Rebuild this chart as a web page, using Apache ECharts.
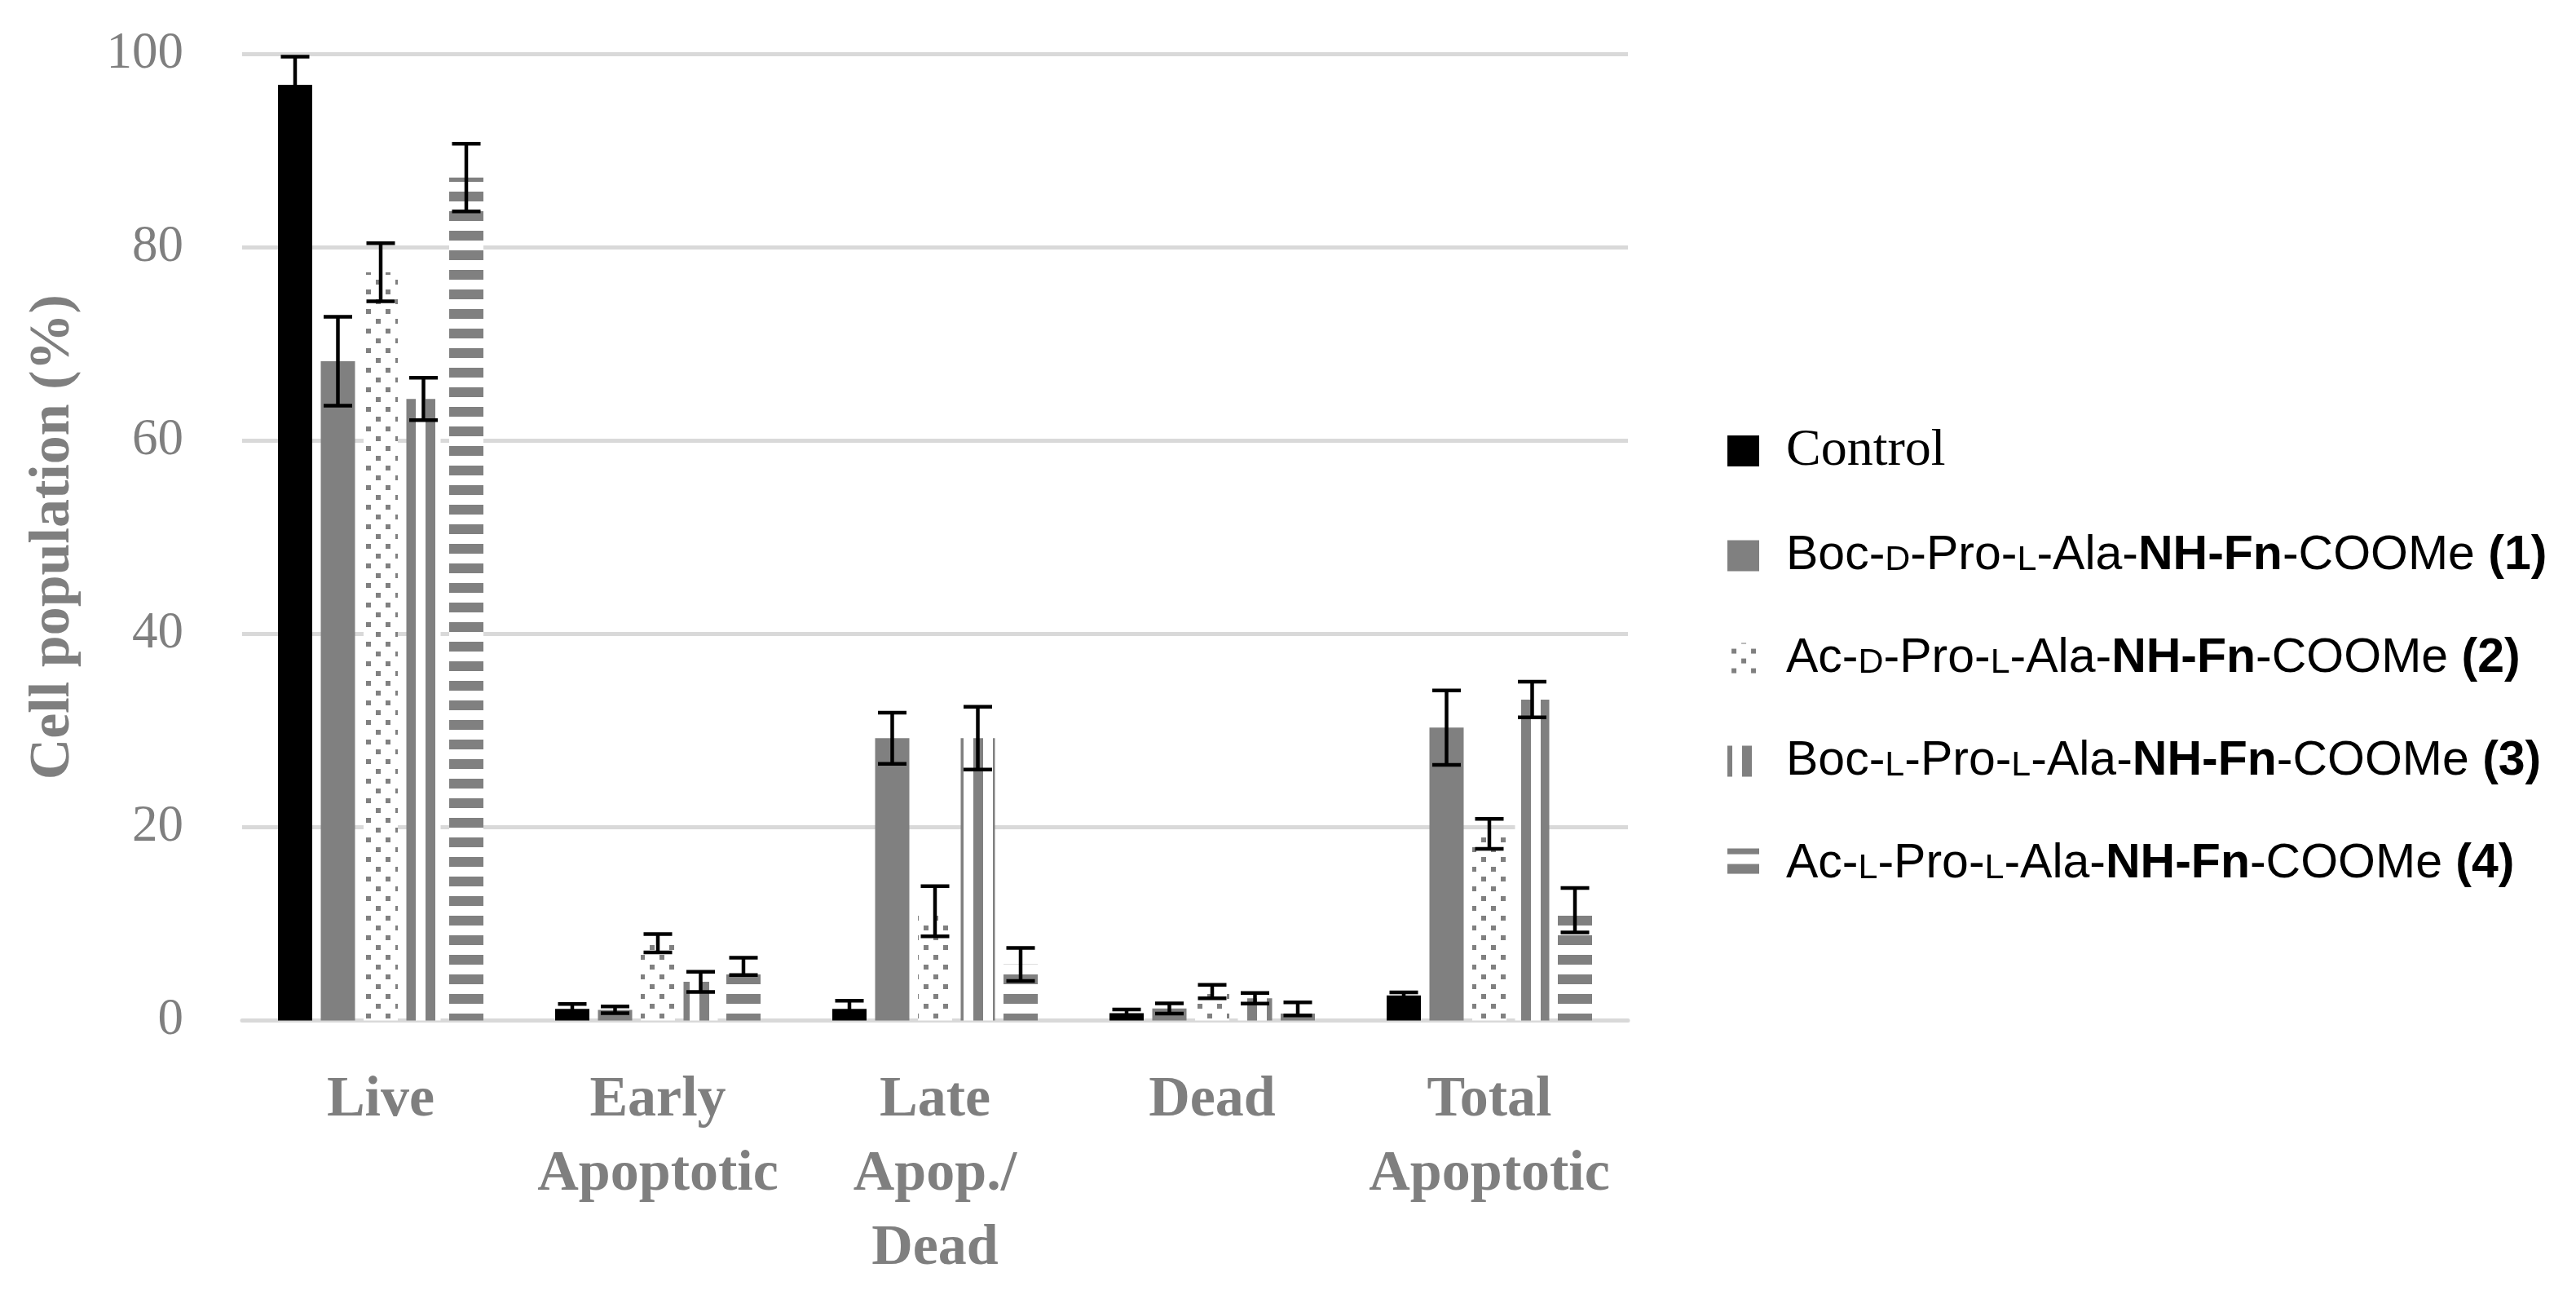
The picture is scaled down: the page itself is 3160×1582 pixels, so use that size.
<!DOCTYPE html>
<html>
<head>
<meta charset="utf-8">
<script src="https://cdn.jsdelivr.net/npm/echarts@6/dist/echarts.min.js"></script>
<style>
  html, body { margin: 0; padding: 0; background: #ffffff; }
  #chart { width: 3160px; height: 1582px; }
</style>
</head>
<body>
<div id="chart"></div>
<script>
// ---------------- data ----------------
const categories = ['Live', 'Early\nApoptotic', 'Late\nApop./\nDead', 'Dead', 'Total\nApoptotic'];
const yTicks = [0, 20, 40, 60, 80, 100];

const seriesNames = [
  'Control',
  'Boc-D-Pro-L-Ala-NH-Fn-COOMe (1)',
  'Ac-D-Pro-L-Ala-NH-Fn-COOMe (2)',
  'Boc-L-Pro-L-Ala-NH-Fn-COOMe (3)',
  'Ac-L-Pro-L-Ala-NH-Fn-COOMe (4)'
];

const controlMean = [96.8, 1.2, 1.2, 0.75, 2.6];
const controlErr  = [2.9, 0.5, 0.85, 0.38, 0.3];
const c1Mean = [68.2, 1.1, 29.2, 1.25, 30.3];
const c1Err  = [4.6, 0.35, 2.65, 0.53, 3.85];
const c2Mean = [77.4, 8.0, 11.3, 3.0, 19.3];
const c2Err  = [3.0, 0.95, 2.6, 0.7, 1.55];
const c3Mean = [64.3, 4.0, 29.2, 2.3, 33.2];
const c3Err  = [2.2, 1.05, 3.25, 0.55, 1.85];
const c4Mean = [87.2, 5.6, 5.8, 1.2, 11.4];
const c4Err  = [3.5, 0.9, 1.7, 0.67, 2.3];

const means = [controlMean, c1Mean, c2Mean, c3Mean, c4Mean];
const errs  = [controlErr, c1Err, c2Err, c3Err, c4Err];

// ---------------- styles ----------------
const GRAY = '#808080';
function makeTile(draw) {
  const c = document.createElement('canvas');
  c.width = 24; c.height = 24;
  const ctx = c.getContext('2d');
  ctx.fillStyle = '#ffffff';
  ctx.fillRect(0, 0, 24, 24);
  ctx.fillStyle = GRAY;
  draw(ctx);
  return { image: c, repeat: 'repeat' };
}
function wrapRect(ctx, x, y, w, h) {
  for (const dx of [0, -24, 24]) for (const dy of [0, -24, 24]) ctx.fillRect(x + dx, y + dy, w, h);
}
const dotPattern = makeTile(ctx => { wrapRect(ctx, 17, 19, 6, 6); wrapRect(ctx, 5, 7, 6, 6); });
const vStripe = makeTile(ctx => { wrapRect(ctx, 18, 0, 12, 24); });
const hStripe = makeTile(ctx => { wrapRect(ctx, 0, 19, 24, 12); });

const fills = ['#000000', GRAY, dotPattern, vStripe, hStripe];

const BAR_W = 42;
const BAR_STEP = 52.5;

const richLegend = {
  'Control': '{c|Control}',
  'Boc-D-Pro-L-Ala-NH-Fn-COOMe (1)': '{n|Boc-}{s|D}{n|-Pro-}{s|L}{n|-Ala-}{b|NH-Fn}{n|-COOMe }{b|(1)}',
  'Ac-D-Pro-L-Ala-NH-Fn-COOMe (2)': '{n|Ac-}{s|D}{n|-Pro-}{s|L}{n|-Ala-}{b|NH-Fn}{n|-COOMe }{b|(2)}',
  'Boc-L-Pro-L-Ala-NH-Fn-COOMe (3)': '{n|Boc-}{s|L}{n|-Pro-}{s|L}{n|-Ala-}{b|NH-Fn}{n|-COOMe }{b|(3)}',
  'Ac-L-Pro-L-Ala-NH-Fn-COOMe (4)': '{n|Ac-}{s|L}{n|-Pro-}{s|L}{n|-Ala-}{b|NH-Fn}{n|-COOMe }{b|(4)}'
};

const barSeries = seriesNames.map((name, i) => ({
  name,
  type: 'bar',
  data: means[i],
  barWidth: BAR_W,
  barGap: ((BAR_STEP - BAR_W) / BAR_W * 100).toFixed(2) + '%',
  itemStyle: { color: fills[i] },
  z: 2
}));

const errSeries = seriesNames.map((name, i) => ({
  name: name + ' error',
  type: 'custom',
  z: 5,
  data: means[i].map((m, k) => [k, m, errs[i][k]]),
  encode: { x: 0, y: [1, 2] },
  renderItem: function (params, api) {
    const k = api.value(0), m = api.value(1), e = api.value(2);
    const off = (i - 2) * BAR_STEP;
    const top = api.coord([k, m + e]);
    const bot = api.coord([k, Math.max(0, m - e)]);
    const x = top[0] + off;
    const half = 17.5;
    const st = { stroke: '#000000', lineWidth: 4.5 };
    return {
      type: 'group',
      children: [
        { type: 'line', shape: { x1: x, y1: top[1], x2: x, y2: bot[1] }, style: st },
        { type: 'line', shape: { x1: x - half, y1: top[1], x2: x + half, y2: top[1] }, style: st },
        { type: 'line', shape: { x1: x - half, y1: bot[1], x2: x + half, y2: bot[1] }, style: st }
      ]
    };
  }
}));

const chart = echarts.init(document.getElementById('chart'), null, { renderer: 'canvas', width: 3160, height: 1582 });
chart.setOption({
  backgroundColor: '#ffffff',
  animation: false,
  grid: { left: 297, right: 1163, top: 66, bottom: 330.5, containLabel: false },
  legend: {
    orient: 'vertical',
    left: 2114,
    top: 516,
    itemWidth: 39,
    itemHeight: 38,
    itemGap: 67,
    icon: 'rect',
    data: seriesNames,
    formatter: name => richLegend[name],
    textStyle: {
      color: '#000000',
      padding: [0, 0, 0, 28],
      lineHeight: 59,
      rich: {
        c: { fontFamily: 'Liberation Serif', fontSize: 64, lineHeight: 59, color: '#000000' },
        n: { fontFamily: 'Liberation Sans', fontSize: 59, lineHeight: 59, color: '#000000' },
        b: { fontFamily: 'Liberation Sans', fontSize: 59, fontWeight: 'bold', lineHeight: 59, color: '#000000' },
        s: { fontFamily: 'Liberation Sans', fontSize: 43, lineHeight: 40, padding: [11, 0, 0, 0], color: '#000000' }
      }
    }
  },
  xAxis: {
    type: 'category',
    data: categories,
    axisLine: { show: true, lineStyle: { color: '#d9d9d9', width: 5 } },
    axisTick: { show: false },
    axisLabel: {
      interval: 0,
      margin: 53,
      color: '#7f7f7f',
      fontFamily: 'Liberation Serif',
      fontWeight: 'bold',
      fontSize: 70,
      lineHeight: 91
    }
  },
  yAxis: {
    type: 'value',
    min: 0,
    max: 100,
    interval: 20,
    name: 'Cell population (%)',
    nameLocation: 'middle',
    nameGap: 196,
    nameTextStyle: { fontFamily: 'Liberation Serif', fontWeight: 'bold', fontSize: 70, color: '#7f7f7f' },
    axisLine: { show: false },
    axisTick: { show: false },
    splitLine: { show: true, lineStyle: { color: '#d9d9d9', width: 5 } },
    axisLabel: {
      margin: 72,
      color: '#7f7f7f',
      fontFamily: 'Liberation Serif',
      fontSize: 63,
      formatter: v => (yTicks.indexOf(v) >= 0 ? String(v) : '')
    }
  },
  series: barSeries.concat(errSeries)
});
</script>
</body>
</html>
